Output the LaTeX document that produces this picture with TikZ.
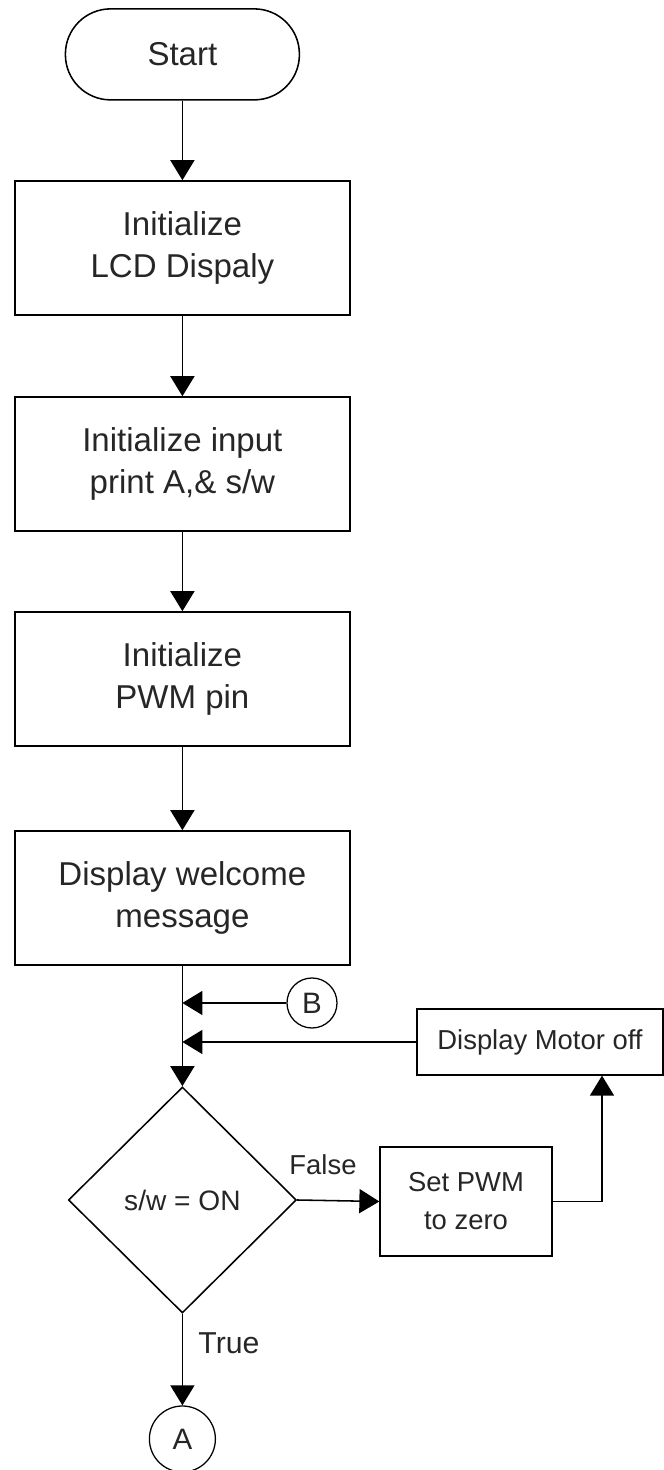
\documentclass[tikz,border=0pt]{standalone}
\usepackage{fontspec}
\setmainfont{Liberation Sans}
\usetikzlibrary{arrows.meta, shapes.geometric}

\tikzset{
    stepbox/.style={draw, line width=1.1pt, minimum width=8.375cm, minimum height=3.35cm,
        align=center, text=black!85, font=\fontsize{23.5}{30}\selectfont},
    smallbox/.style={draw, line width=0.9pt, align=center, text=black!85,
        font=\fontsize{19.5}{27}\selectfont},
    connector/.style={circle, draw, line width=0.9pt, inner sep=0pt, text=black!85,
        font=\fontsize{21}{25}\selectfont},
    flow/.style={line width=1.1pt, -{Triangle[width=0.6cm, length=0.5cm]}},
    lbl/.style={text=black!85, font=\fontsize{19.5}{24}\selectfont}
}

\begin{document}
\begin{tikzpicture}
        \useasboundingbox (0,0) rectangle (16.6,36.75);

        % main column
        \node[draw, line width=1.1pt, rounded corners=1.13cm, minimum width=5.85cm,
            minimum height=2.275cm, text=black!85, font=\fontsize{23.5}{30}\selectfont]
            (start) at (4.56,35.39) {Start};
        \node[stepbox] (lcd) at (4.56,30.55) {Initialize\\LCD Dispaly};
        \node[stepbox] (pins) at (4.56,25.15) {Initialize input\\print A,\& s/w};
        \node[stepbox] (pwm) at (4.56,19.775) {Initialize\\PWM pin};
        \node[stepbox] (welcome) at (4.56,14.3) {Display welcome\\message};

        % decision
        \node[diamond, draw, line width=1.1pt, minimum width=5.7cm, minimum height=5.65cm,
            inner sep=0pt, text=black!85, font=\fontsize{20}{24}\selectfont]
            (check) at (4.56,6.75) {s/w = ON};

        % side branch
        \node[smallbox, minimum width=4.3cm, minimum height=2.725cm] (setpwm) at (11.65,6.7125) {Set PWM\\to zero};
        \node[smallbox, minimum width=6.15cm, minimum height=1.65cm] (motoroff) at (13.5,10.7) {Display Motor off};

        % off-page connectors
        \node[connector, minimum size=1.25cm] (conB) at (7.8,11.675) {B};
        \node[connector, minimum size=1.65cm] (conA) at (4.56,0.775) {A};

        \draw[flow] (start) -- (lcd);
        \draw[flow] (lcd) -- (pins);
        \draw[flow] (pins) -- (pwm);
        \draw[flow] (pwm) -- (welcome);
        \draw[flow] (welcome) -- (check);

        \draw[flow] (conB.west) -- (conB.west -| welcome.south);
        \draw[flow] (motoroff.west) -- (motoroff.west -| welcome.south);

        \draw[flow] (check.east) -- (setpwm.west);
        \node[lbl] (false) at (8.075,7.625) {False};
        \draw[flow] (setpwm.east) -| ([xshift=1.55cm]motoroff.south);

        \draw[flow] (check.south) -- (conA.north);
        \node[lbl, font=\fontsize{21.5}{26}\selectfont] (true) at (5.725,3.175) {True};
\end{tikzpicture}
\end{document}
